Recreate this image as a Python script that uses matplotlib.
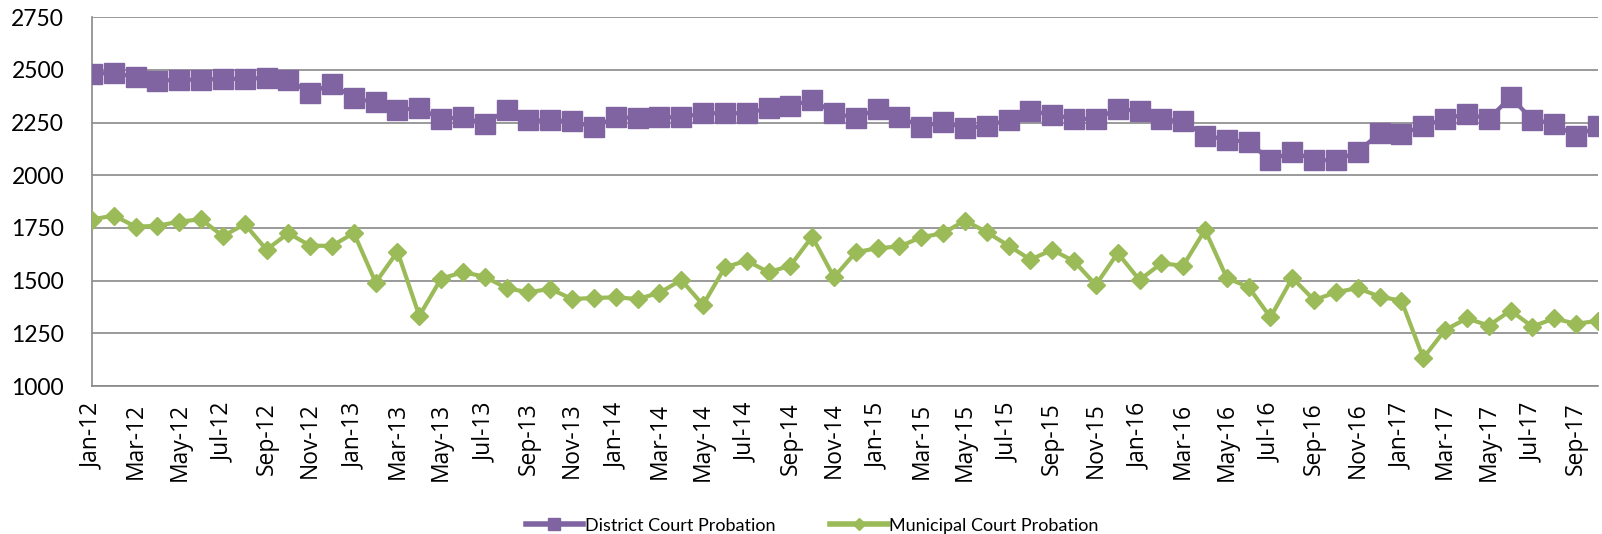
import numpy as np
import matplotlib
matplotlib.use('Agg')
import matplotlib.pyplot as plt
from matplotlib.lines import Line2D

# monthly counts, Jan-12 .. Oct-17
district = [2481, 2486, 2465, 2448, 2453, 2453, 2457, 2457, 2462, 2453, 2389, 2434,
            2364, 2347, 2310, 2318, 2267, 2275, 2244, 2310, 2260, 2260, 2256, 2228,
            2275, 2272, 2275, 2275, 2294, 2294, 2294, 2318, 2328, 2358, 2294, 2272,
            2315, 2275, 2231, 2252, 2225, 2233, 2264, 2304, 2288, 2267, 2267, 2315,
            2304, 2267, 2255, 2188, 2169, 2157, 2070, 2112, 2073, 2070, 2112, 2199,
            2196, 2233, 2267, 2291, 2267, 2370, 2264, 2244, 2184, 2233]
municipal = [1790, 1809, 1756, 1760, 1780, 1791, 1711, 1768, 1647, 1725, 1666, 1665,
             1726, 1491, 1638, 1333, 1510, 1540, 1519, 1464, 1445, 1461, 1413, 1418,
             1421, 1413, 1442, 1503, 1385, 1563, 1595, 1540, 1571, 1709, 1516, 1635,
             1654, 1662, 1706, 1725, 1785, 1730, 1666, 1600, 1646, 1592, 1480, 1631,
             1503, 1582, 1571, 1741, 1513, 1469, 1326, 1513, 1408, 1445, 1465, 1424,
             1405, 1133, 1266, 1321, 1287, 1358, 1282, 1321, 1295, 1310]
tick_labels = ['Jan-12', 'Mar-12', 'May-12', 'Jul-12', 'Sep-12', 'Nov-12',
               'Jan-13', 'Mar-13', 'May-13', 'Jul-13', 'Sep-13', 'Nov-13',
               'Jan-14', 'Mar-14', 'May-14', 'Jul-14', 'Sep-14', 'Nov-14',
               'Jan-15', 'Mar-15', 'May-15', 'Jul-15', 'Sep-15', 'Nov-15',
               'Jan-16', 'Mar-16', 'May-16', 'Jul-16', 'Sep-16', 'Nov-16',
               'Jan-17', 'Mar-17', 'May-17', 'Jul-17', 'Sep-17']
names = ['District Court Probation', 'Municipal Court Probation']

purple = '#8064A2'
green = '#9BBB59'
grid_c = '#898989'

x = np.arange(len(district))

fig = plt.figure(figsize=(16.02, 5.34), dpi=100)
ax = fig.add_axes([0.0574, 0.277, 0.94, 0.691])

ax.plot(x, district, color=purple, lw=3, marker='s', ms=14, mec=purple, zorder=3)
ax.plot(x, municipal, color=green, lw=3, marker='D', ms=9.5, mec=green, zorder=3)

ax.set_xlim(0, len(district) - 1)
ax.set_ylim(1000, 2750)
ax.set_yticks(np.arange(1000, 2751, 250))
ax.set_xticks(x[::2])
ax.set_xticklabels(tick_labels, rotation=90, fontfamily='Open Sans', fontsize=16.5)
for lab in ax.get_yticklabels():
    lab.set_fontfamily('Lato')
    lab.set_fontsize(16.5)

ax.yaxis.grid(True, color=grid_c, lw=1.2)
ax.set_axisbelow(True)
for s in ['top', 'right']:
    ax.spines[s].set_visible(False)
ax.spines['left'].set_color(grid_c)
ax.spines['bottom'].set_color(grid_c)
ax.spines['left'].set_linewidth(1.2)
ax.spines['bottom'].set_linewidth(1.2)
ax.tick_params(axis='y', length=0, pad=20)
ax.tick_params(axis='x', length=0, pad=12)

handles = [Line2D([], [], color=purple, lw=4, marker='s', ms=8),
           Line2D([], [], color=green, lw=4, marker='D', ms=6)]
fig.legend(handles, names, loc='lower center', bbox_to_anchor=(0.507, -0.03),
           ncol=2, frameon=False, prop={'family': 'Lato', 'size': 13},
           handlelength=3.2, handletextpad=0.1, columnspacing=3)

fig.savefig('out.png', dpi=100)
